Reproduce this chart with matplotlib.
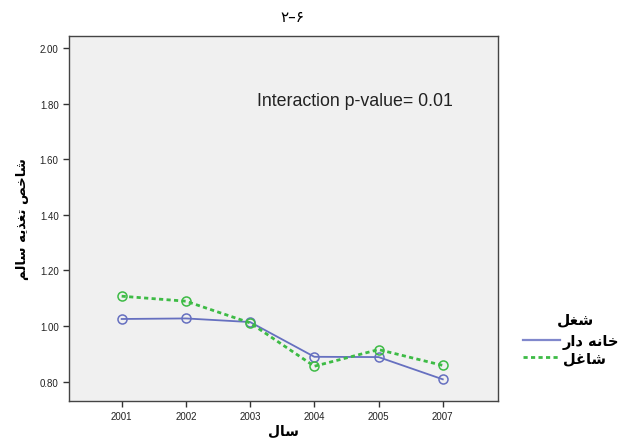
import matplotlib.pyplot as plt
from matplotlib.lines import Line2D

# data
years = ["2001", "2002", "2003", "2004", "2005", "2007"]
housewife = [1.025, 1.027, 1.014, 0.889, 0.888, 0.808]
employed = [1.107, 1.089, 1.011, 0.855, 0.915, 0.858]
y_ticks = [0.80, 1.00, 1.20, 1.40, 1.60, 1.80, 2.00]

# Persian text written in shaped presentation forms, visual order
title = "\u06F2\u2013\u06F6"
x_label = "\uFEDD\uFE8E\uFEB3"  # سال
y_label = ("\uFEE2\uFEDF\uFE8E\uFEB3 "
           "\uFEEA\uFEF3\uFEAC\uFED0\uFE97 "
           "\uFEBA\uFEA7\uFE8E\uFEB7")  # شاخص تغذیه سالم
legend_title = "\uFEDE\uFED0\uFEB7"  # شغل
label_housewife = "\uFEAD\uFE8D\uFEA9 \uFEEA\uFEE7\uFE8E\uFEA7"  # خانه دار
label_employed = "\uFEDE\uFECF\uFE8E\uFEB7"  # شاغل

BLUE = "#6670c0"
GREEN = "#3dbb45"
DASH = (0, (1.5, 1.2))

plt.rcParams['font.family'] = ['Liberation Sans', 'DejaVu Sans']

fig = plt.figure(figsize=(6.26, 4.39), dpi=100)
ax = fig.add_axes([69 / 626, 37 / 439, 429 / 626, 365 / 439])
ax.set_facecolor("#f0f0f0")

x = list(range(len(years)))
ax.plot(x, housewife, color=BLUE, lw=1.3, marker="o", ms=6.5,
        mfc="none", mec=BLUE, mew=1.1)
ax.plot(x, employed, color=GREEN, lw=2, ls=DASH, marker="o",
        ms=6.5, mfc="none", mec=GREEN, mew=1.1)

ax.set_xlim(-0.82, 5.86)
ax.set_ylim(0.73, 2.043)
ax.set_xticks(x)
ax.set_xticklabels(years)
ax.set_yticks(y_ticks)
ax.set_yticklabels([f"{v:.2f}" for v in y_ticks])
ax.tick_params(labelsize=7, length=4, width=1, color="#333333",
               labelcolor="#222222")
for s in ax.spines.values():
    s.set_color("#444444")
    s.set_linewidth(1)

ax.text(257 / 626, 1 - 101 / 439, "Interaction p-value= 0.01",
        transform=fig.transFigure, fontsize=12.8, color="#222222",
        va="center")

fig.text(292 / 626, 1 - 18 / 439, title, fontsize=11,
         family=["DejaVu Sans"], ha="center", va="center")
ax.set_xlabel(x_label, fontsize=10, family=["DejaVu Sans"],
              fontweight="bold", labelpad=2)
ax.set_ylabel(y_label, fontsize=9.5, family=["DejaVu Sans"],
              fontweight="bold", labelpad=8)

# legend: title drawn separately, line before the label
fig.text(576 / 626, 1 - 320 / 439, legend_title, fontsize=11,
         family=["DejaVu Sans"], fontweight="bold", ha="center",
         va="center")
handles = [Line2D([], [], color="#8088cc", lw=1.6),
           Line2D([], [], color=GREEN, lw=2, ls=DASH)]
fig.legend(handles, [label_housewife, label_employed],
           loc="center left", bbox_to_anchor=(523 / 626, 1 - 350 / 439),
           frameon=False, borderpad=0, borderaxespad=0,
           handlelength=2.55, handletextpad=0.2, labelspacing=0.05,
           prop={"family": ["DejaVu Sans"], "weight": "bold", "size": 10.5})

fig.savefig("out.png", dpi=100)
